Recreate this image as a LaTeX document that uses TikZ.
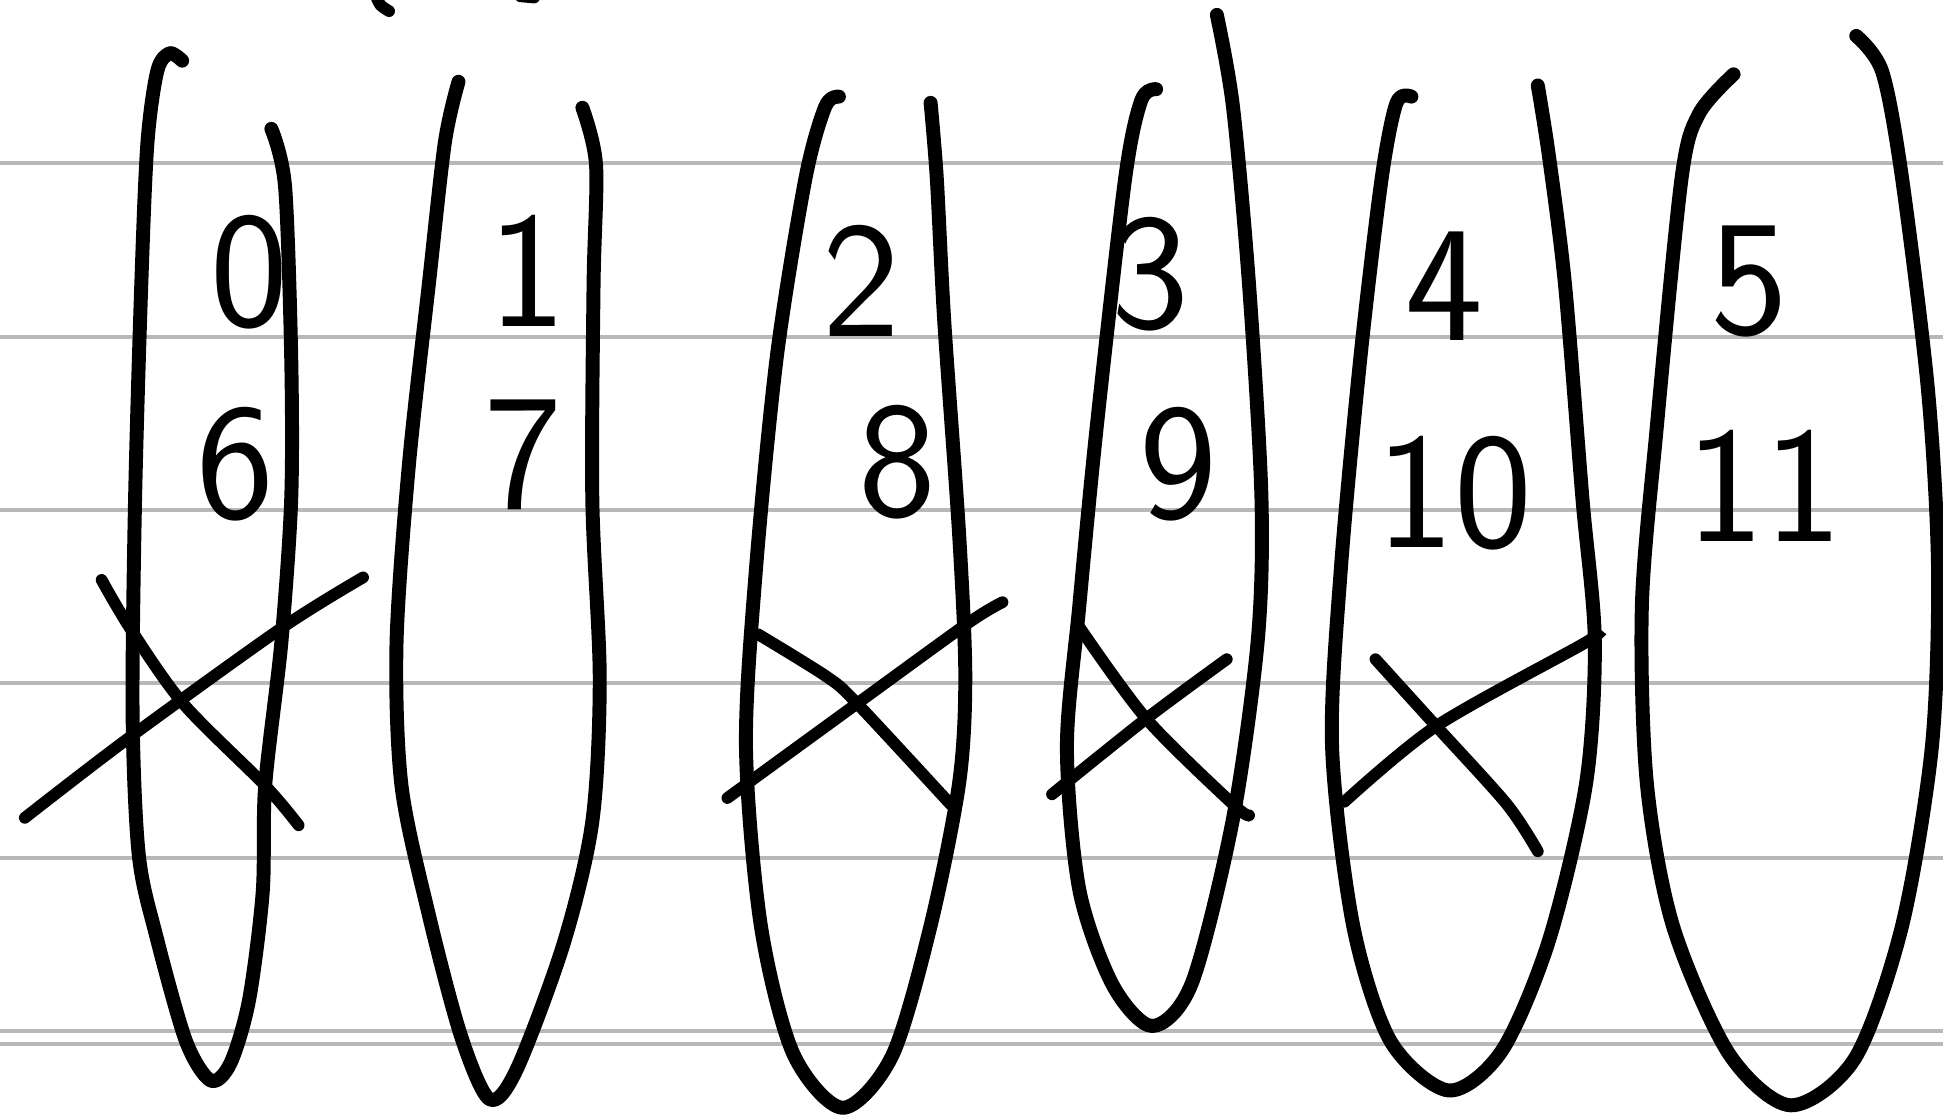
\documentclass[tikz,border=0pt]{standalone}
\usepackage{tikz}

\begin{document}
\begin{tikzpicture}[
      x=0.01cm, y=-0.01cm,
      ruling/.style={black!28, line width=0.8pt},
      ring/.style={line width=3.2pt, line cap=round, line join=round},
      strike/.style={line width=2.7pt, line cap=round},
      every node/.style = {inner sep=0pt,
        font=\sffamily\fontsize{38}{38}\selectfont}
    ]
      \useasboundingbox (0,0) rectangle (1568,901);
      % lined paper
      \draw[ruling] (0,131.5) -- (1568,131.5)
                    (0,272) -- (1568,272)
                    (0,411.5) -- (1568,411.5)
                    (0,551) -- (1568,551)
                    (0,692.5) -- (1568,692.5)
                    (0,832) -- (1568,832)
                    (0,842.5) -- (1568,842.5);

      % cut-off marks at the top edge
      \draw[strike] plot[smooth] coordinates {(303,-4) (307,4) (314,9)};
      \draw[strike] (420,-3) -- (431,-2);

      % the six groups
      \draw[ring] plot[smooth] coordinates {(147,49) (137,43) (127,57) (119,115)
        (114,230) (109,403) (107,576) (112,690) (126,755) (150,840) (170,872)
        (186,858) (201,807) (212,720) (214,634) (227,519) (235,403) (235,288)
        (230,150) (219,104)};
      \draw[ring] plot[smooth] coordinates {(370,66) (359,115) (346,230) (330,375)
        (320,519) (324,634) (346,738) (372,836) (395,887) (417,863) (455,761)
        (478,663) (484,548) (478,403) (479,230) (481,133) (470,87)};
      \draw[ring] plot[smooth] coordinates {(677,78) (666,86) (650,144) (627,287)
        (610,460) (602,603) (614,747) (640,850) (680,894) (720,852) (751,747)
        (774,632) (779,546) (774,431) (762,259) (756,144) (751,83)};
      \draw[ring] plot[smooth] coordinates {(933,72) (921,81) (908,144) (885,345)
        (871,489) (861,603) (871,718) (898,795) (930,828) (962,793) (995,661)
        (1015,517) (1018,402) (1008,230) (995,86) (982,12)};
      \draw[ring] plot[smooth] coordinates {(1139,78) (1127,83) (1115,144)
        (1098,287) (1082,460) (1075,603) (1092,747) (1122,840) (1169,880)
        (1212,848) (1250,759) (1280,632) (1287,517) (1277,402) (1263,230)
        (1250,126) (1241,69)};
      \draw[ring] plot[smooth] coordinates {(1399,60) (1371,92) (1357,144)
        (1337,345) (1325,489) (1329,632) (1350,747) (1395,850) (1445,892)
        (1497,854) (1535,747) (1559,603) (1564,460) (1556,316) (1535,144)
        (1519,58) (1498,29)};

      % crossed out
      \draw[strike] plot[smooth] coordinates {(82,468) (105,507) (148,568) (214,634) (241,666)};
      \draw[strike] plot[smooth] coordinates {(20,660) (102,597) (227,507) (293,466)};
      \draw[strike] plot[smooth] coordinates {(612,512) (667,546) (691,567) (767,649)};
      \draw[strike] plot[smooth] coordinates {(587,644) (690,569) (781,503) (809,486)};
      \draw[strike] plot[smooth] coordinates {(871,506) (925,580) (995,649) (1008,658)};
      \draw[strike] plot[smooth] coordinates {(849,641) (925,580) (990,532)};
      \draw[strike] plot[smooth] coordinates {(1110,532) (1159,586) (1216,649) (1241,687)};
      \draw[strike] plot[smooth] coordinates {(1085,647) (1159,586) (1277,520) (1288,512)};

      % numbers
      \node (n0) at (201,220) {0};
      \node (n6) at (190,375) {6};
      \node (n1) at (426,219) {1};
      \node (n7) at (422,367) {7};
      \node (n2) at (695,227) {2};
      \node (n8) at (724,373) {8};
      \node (n3) at (928,221) {3};
      \node (n9) at (951,375) {9};
      \node (n4) at (1166,231) {4};
      \node (n10) at (1174,398) {10};
      \node (n5) at (1412,227) {5};
      \node (n11) at (1424,392) {11};
    \end{tikzpicture}
\end{document}
